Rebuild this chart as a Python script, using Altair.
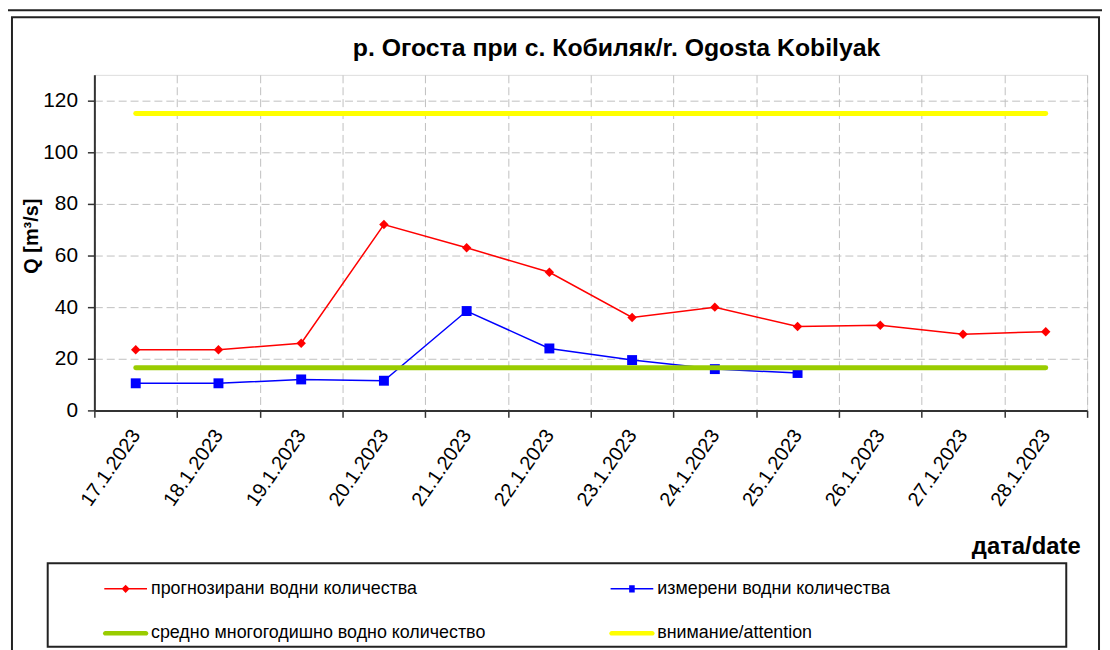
import altair as alt
import pandas as pd

dates = ["17.1.2023", "18.1.2023", "19.1.2023", "20.1.2023", "21.1.2023", "22.1.2023",
         "23.1.2023", "24.1.2023", "25.1.2023", "26.1.2023", "27.1.2023", "28.1.2023"]
forecast = [23.5, 23.5, 26.0, 72.0, 63.0, 53.5, 36.0, 40.0, 32.5, 33.0, 29.5, 30.5]
measured = [10.5, 10.5, 12.0, 11.5, 38.5, 24.0, 19.5, 16.0, 14.5]
mean_q = 16.5
attention_q = 115.0
title_text = "р. Огоста при с. Кобиляк/r. Ogosta Kobilyak"

# legend order (column-major layout: column 1 then column 2)
series_names = ["прогнозирани  водни количества", "средно  многогодишно  водно количество",
                "измерени  водни количества", "внимание/attention"]
series_colors = ["#ff0000", "#99cc00", "#0000ff", "#ffff00"]
legend_paths = [
    "M-1,-0.035H1V0.035H-1Z M0,-0.19L0.19,0L0,0.19L-0.19,0Z",
    "M-0.95,-0.11H0.95A0.11,0.11 0 0 1 0.95,0.11H-0.95A0.11,0.11 0 0 1 -0.95,-0.11Z",
    "M-1,-0.035H1V0.035H-1Z M-0.13,-0.17H0.13V0.17H-0.13Z",
    "M-0.95,-0.11H0.95A0.11,0.11 0 0 1 0.95,0.11H-0.95A0.11,0.11 0 0 1 -0.95,-0.11Z",
]

df_fc = pd.DataFrame({"date": dates, "q": forecast})
df_ms = pd.DataFrame({"date": dates[:len(measured)], "q": measured})
df_mean = pd.DataFrame({"date": dates, "q": [mean_q] * len(dates)})
df_att = pd.DataFrame({"date": dates, "q": [attention_q] * len(dates)})
df_leg = pd.DataFrame({"date": [dates[0]] * 4, "q": [0] * 4, "series": series_names})

FONT = "Liberation Sans"
W, H = 1000, 338

xscale = alt.Scale(type="band", domain=dates, paddingInner=0, paddingOuter=0)
yscale = alt.Scale(domain=[0, 130], nice=False)

x_axis = alt.Axis(
    title="дата/date", tickBand="extent", grid=True, gridDash=[8, 4], gridColor="#c0c0c0",
    domainColor="#333333", domainWidth=2, tickColor="#333333", tickSize=7, tickWidth=1.5,
    labelAngle=-55, labelAlign="right", labelBaseline="middle", labelPadding=14,
    labelFontSize=20, labelFont=FONT, labelColor="black",
    titleFont=FONT, titleFontSize=24, titleFontWeight="bold", titleColor="black",
    titleAnchor="end", titleAlign="right", titleBaseline="alphabetic", titleX=993, titleY=144,
)
y_axis = alt.Axis(
    title="Q [m³/s]", values=[0, 20, 40, 60, 80, 100, 120], grid=True, gridDash=[8, 4],
    gridColor="#c0c0c0", domainColor="#333333", domainWidth=2, tickColor="#333333",
    tickSize=7, tickWidth=1.5, labelFontSize=21, labelFont=FONT, labelColor="black",
    labelPadding=10, titleFont=FONT, titleFontSize=20, titleFontWeight="bold",
    titleColor="black", titleX=-53, titleY=162, titleAngle=-90, titleAlign="center",
    titleBaseline="bottom",
)

X = alt.X("date:N", scale=xscale, axis=x_axis, sort=dates, bandPosition=0.5)
Xn = alt.X("date:N", scale=xscale, sort=dates, bandPosition=0.5)
Y = alt.Y("q:Q", scale=yscale, axis=y_axis)
Yn = alt.Y("q:Q", scale=yscale)

one = pd.DataFrame({"a": [0]})
frame_outer = alt.Chart(one).mark_rect(fill=None, stroke="#222222", strokeWidth=2).encode(
    x=alt.value(-91), x2=alt.value(1040), y=alt.value(-65), y2=alt.value(640))
frame_inner = alt.Chart(one).mark_rect(fill=None, stroke="#222222", strokeWidth=2).encode(
    x=alt.value(-83), x2=alt.value(1012), y=alt.value(-58), y2=alt.value(640))
legend_box = alt.Chart(one).mark_rect(fill="white", stroke="#222222", strokeWidth=2).encode(
    x=alt.value(-47), x2=alt.value(979), y=alt.value(492), y2=alt.value(576))
title_mark = alt.Chart(one).mark_text(
    font=FONT, fontSize=25, fontWeight="bold", color="black", align="center",
    baseline="alphabetic").encode(x=alt.value(526), y=alt.value(-19), text=alt.value(title_text))

att = alt.Chart(df_att).mark_line(color="#ffff00", strokeWidth=5, strokeCap="round").encode(x=X, y=Y)
mean = alt.Chart(df_mean).mark_line(color="#99cc00", strokeWidth=5, strokeCap="round").encode(x=Xn, y=Yn)
fc_line = alt.Chart(df_fc).mark_line(color="#ff0000", strokeWidth=1.5).encode(x=Xn, y=Yn)
fc_pts = alt.Chart(df_fc).mark_point(shape="diamond", filled=True, color="#ff0000", size=90, opacity=1).encode(x=Xn, y=Yn)
ms_line = alt.Chart(df_ms).mark_line(color="#0000ff", strokeWidth=1.5).encode(x=Xn, y=Yn)
ms_pts = alt.Chart(df_ms).mark_point(shape="square", filled=True, color="#0000ff", size=100, opacity=1).encode(x=Xn, y=Yn)

leg = alt.Chart(df_leg).mark_point(filled=True, opacity=0).encode(
    x=Xn, y=Yn,
    color=alt.Color("series:N", scale=alt.Scale(domain=series_names, range=series_colors),
                    sort=series_names,
                    legend=alt.Legend(title=None, orient="none", legendX=10, legendY=496,
                                      columns=2, columnPadding=113, rowPadding=14,
                                      symbolSize=1849, symbolStrokeWidth=0, symbolOpacity=1,
                                      labelFont=FONT, labelFontSize=18, labelColor="black",
                                      labelOffset=4, labelLimit=600, padding=0)),
    shape=alt.Shape("series:N", scale=alt.Scale(domain=series_names, range=legend_paths), legend=None),
)

chart = alt.layer(frame_outer, frame_inner, legend_box, title_mark, att, fc_line, fc_pts,
                  ms_line, ms_pts, mean, leg).properties(
    width=W, height=H,
    padding={"left": 87, "top": 65, "right": 15, "bottom": 239},
    autosize=alt.AutoSizeParams(type="none"),
).configure_view(stroke=None).configure(background="white")

chart.save("out.html", embed_options={"renderer": "svg", "actions": False})
